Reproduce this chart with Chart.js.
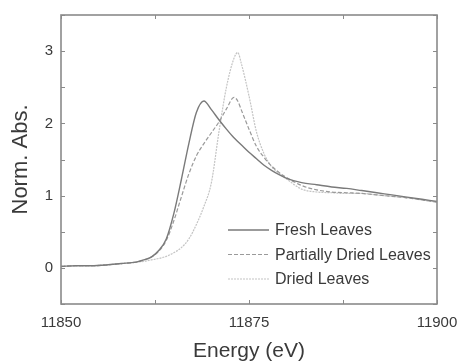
<!DOCTYPE html>
<html><head><meta charset="utf-8">
<script src="https://cdn.jsdelivr.net/npm/chart.js@4.4.1/dist/chart.umd.min.js"></script>
<style>html,body{margin:0;padding:0;background:#fff}#wrap{width:461px;height:362px}</style>
</head><body><div id="wrap"><canvas id="c"></canvas></div>
<script>
const energies = [11850,11852,11854,11856,11858,11860,11861,11862,11863,11864,11865,11866,11867,11868,11869,11870,11871,11872,11873,11873.5,11874,11875,11876,11877,11878,11879,11880,11882,11884,11886,11888,11890,11892,11894,11896,11898,11900];
const fresh =   [0.02,0.03,0.03,0.04,0.06,0.08,0.11,0.15,0.24,0.40,0.75,1.22,1.72,2.15,2.31,2.19,2.05,1.92,1.80,1.75,1.70,1.60,1.51,1.42,1.35,1.29,1.24,1.18,1.15,1.12,1.10,1.07,1.04,1.01,0.98,0.95,0.92];
const partial = [0.02,0.03,0.03,0.04,0.06,0.08,0.11,0.15,0.23,0.38,0.65,0.98,1.30,1.55,1.72,1.87,2.02,2.20,2.36,2.31,2.18,1.92,1.68,1.53,1.41,1.32,1.25,1.14,1.08,1.05,1.04,1.03,1.01,0.99,0.97,0.94,0.91];
const dried =   [0.02,0.03,0.03,0.04,0.06,0.08,0.09,0.11,0.13,0.16,0.21,0.28,0.40,0.60,0.85,1.18,1.88,2.50,2.90,2.98,2.82,2.38,1.88,1.58,1.40,1.31,1.23,1.09,1.05,1.04,1.03,1.03,1.01,0.99,0.97,0.94,0.91];
const seriesNames = ['Fresh Leaves','Partially Dried Leaves','Dried Leaves'];
const xTicks = [11850,11875,11900];
const yTicks = [0,1,2,3];

function pts(arr){ return energies.map((e,i)=>({x:e,y:arr[i]})); }
const FONT = '"Liberation Sans", Arial, sans-serif';

const frame = {
  id:'frame',
  afterDraw(chart){
    const {ctx, chartArea:a, scales:{x,y}} = chart;
    ctx.save();
    ctx.strokeStyle='#8a8a8a'; ctx.lineWidth=1.6;
    ctx.strokeRect(a.left,a.top,a.right-a.left,a.bottom-a.top);
    ctx.lineWidth=1;
    const L=4;
    for(let v=11850; v<=11900; v+=12.5){
      const px=Math.round(x.getPixelForValue(v))+0.5;
      ctx.beginPath(); ctx.moveTo(px,a.bottom); ctx.lineTo(px,a.bottom-L);
      ctx.moveTo(px,a.top); ctx.lineTo(px,a.top+L); ctx.stroke();
    }
    for(let v=-0.5; v<=3.5; v+=0.5){
      const py=Math.round(y.getPixelForValue(v))+0.5;
      ctx.beginPath(); ctx.moveTo(a.left,py); ctx.lineTo(a.left+L,py);
      ctx.moveTo(a.right,py); ctx.lineTo(a.right-L,py); ctx.stroke();
    }
    const ds = chart.data.datasets;
    const rows=[230,254.5,279];
    ctx.font='16px '+FONT;
    ctx.textBaseline='middle';
    ds.forEach((d,i)=>{
      ctx.strokeStyle=d.borderColor; ctx.lineWidth=d.borderWidth;
      ctx.setLineDash(d.borderDash||[]);
      ctx.beginPath(); ctx.moveTo(228,rows[i]); ctx.lineTo(269,rows[i]); ctx.stroke();
      ctx.setLineDash([]);
      ctx.fillStyle='#3a3a3a';
      ctx.fillText(d.label,275,rows[i]+1);
    });
    ctx.restore();
  }
};

new Chart(document.getElementById('c'),{
  type:'line',
  data:{datasets:[
    {label:seriesNames[0],data:pts(fresh),borderColor:'#7a7a7a',borderWidth:1.4,pointRadius:0,cubicInterpolationMode:'monotone'},
    {label:seriesNames[1],data:pts(partial),borderColor:'#9a9a9a',borderWidth:1.2,borderDash:[4,2],pointRadius:0,cubicInterpolationMode:'monotone'},
    {label:seriesNames[2],data:pts(dried),borderColor:'#c4c4c4',borderWidth:1.2,borderDash:[2,1],pointRadius:0,cubicInterpolationMode:'monotone'}
  ]},
  options:{
    responsive:true, maintainAspectRatio:false, animation:false,
    layout:{padding:{left:0,right:24,top:15,bottom:0}},
    plugins:{legend:{display:false},tooltip:{enabled:false}},
    scales:{
      x:{type:'linear',min:11850,max:11900,
        afterBuildTicks:s=>{s.ticks=xTicks.map(v=>({value:v}));},
        afterFit:s=>{s.height=58;},
        grid:{display:false},border:{display:false},
        ticks:{color:'#3a3a3a',font:{size:15,family:FONT},padding:2,maxRotation:0,callback:v=>String(v)},
        title:{display:true,text:'Energy (eV)',color:'#3a3a3a',font:{size:21,family:FONT,lineHeight:1},padding:{top:7,bottom:0}}
      },
      y:{type:'linear',min:-0.5,max:3.5,
        afterBuildTicks:s=>{s.ticks=yTicks.map(v=>({value:v}));},
        afterFit:s=>{s.width=61;},
        grid:{display:false},border:{display:false},
        ticks:{color:'#3a3a3a',font:{size:15,family:FONT},padding:0,callback:v=>String(v)},
        title:{display:true,text:'Norm. Abs.',color:'#3a3a3a',font:{size:22,family:FONT},padding:{top:8,bottom:0}}
      }
    }
  },
  plugins:[frame]
});
</script></body></html>
